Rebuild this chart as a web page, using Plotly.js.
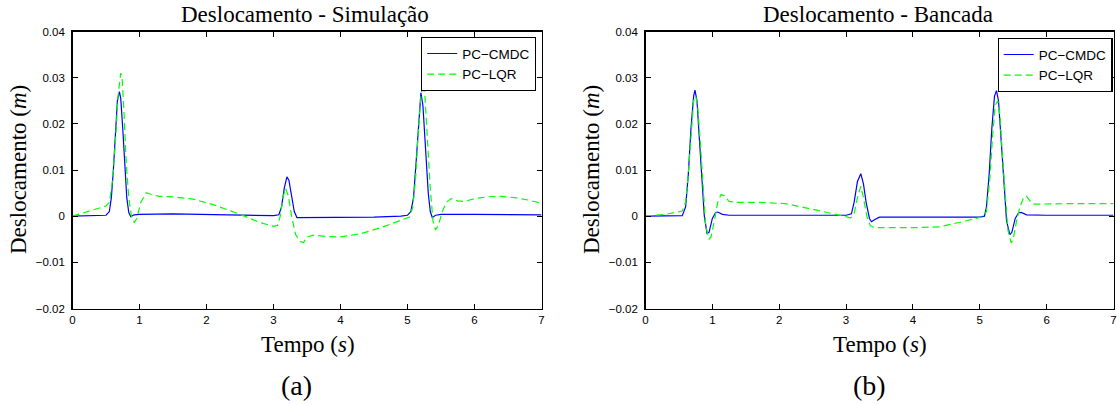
<!DOCTYPE html>
<html>
<head>
<meta charset="utf-8">
<script src="https://cdn.plot.ly/plotly-3.0.1.min.js"></script>
<style>html,body{margin:0;padding:0;background:#fff;}#chart{width:1117px;height:405px;}</style>
</head>
<body>
<div id="chart"></div>
<script>
// ---- Data ----
const seriesNames = ["PC\u2212CMDC", "PC\u2212LQR"];
const xTickVals = [0,1,2,3,4,5,6,7];
const xTickText = ["0","1","2","3","4","5","6","7"];
const yTickVals = [0.04,0.03,0.02,0.01,0,-0.01,-0.02];
const yTickText = ["0.04","0.03","0.02","0.01","0","\u22120.01","\u22120.02"];

// (a) Simulação – PC-CMDC
const simCmdcT = [0,0.5,0.55,0.58,0.61,0.64,0.67,0.70,0.72,0.75,0.78,0.81,0.84,0.87,0.92,1.0,1.5,2.0,2.5,3.0,3.08,3.12,3.16,3.2,3.23,3.27,3.31,3.35,3.5,4.0,4.5,4.9,5.0,5.05,5.09,5.13,5.17,5.2,5.23,5.27,5.31,5.34,5.37,5.42,5.5,6.0,6.5,7.0];
const simCmdcY = [0,0.0002,0.001,0.004,0.010,0.018,0.025,0.027,0.0255,0.019,0.010,0.004,0.0008,-0.0001,0.0003,0.0004,0.0005,0.0004,0.0003,0.0001,0.0003,0.002,0.006,0.0085,0.0078,0.004,0.001,-0.0003,-0.0003,-0.0003,-0.0002,0.0,0.0002,0.001,0.004,0.012,0.022,0.0267,0.024,0.014,0.005,0.001,-0.0003,0.0002,0.0004,0.0004,0.0004,0.0003];
// (a) Simulação – PC-LQR
const simLqrT = [0,0.5,0.55,0.6,0.64,0.68,0.72,0.74,0.77,0.80,0.84,0.88,0.92,0.96,1.02,1.1,1.2,1.3,1.5,1.8,2.1,2.5,2.8,3.0,3.06,3.1,3.14,3.18,3.22,3.27,3.33,3.4,3.45,3.5,3.6,3.8,4.0,4.3,4.6,4.9,5.03,5.08,5.12,5.16,5.2,5.23,5.26,5.3,5.34,5.38,5.42,5.46,5.52,5.58,5.65,5.75,5.85,6.0,6.2,6.4,6.6,6.8,7.0];
const simLqrY = [0,0.0022,0.003,0.008,0.016,0.026,0.031,0.030,0.022,0.012,0.004,0.0,-0.0014,-0.0005,0.003,0.0051,0.0046,0.0043,0.0042,0.0037,0.0025,0.0004,-0.0014,-0.0022,-0.002,0.0,0.004,0.006,0.0045,0.0,-0.004,-0.0055,-0.0057,-0.0045,-0.0041,-0.0044,-0.0045,-0.0038,-0.0025,-0.001,-0.0002,0.002,0.008,0.018,0.026,0.0288,0.026,0.016,0.006,-0.001,-0.003,-0.002,0.001,0.003,0.0038,0.0033,0.0032,0.0038,0.0042,0.0043,0.004,0.0035,0.0028];

// (b) Bancada – PC-CMDC
const banCmdcT = [0,0.55,0.6,0.64,0.68,0.72,0.74,0.77,0.8,0.84,0.88,0.92,0.95,1.0,1.05,1.08,1.15,1.25,2.0,3.0,3.08,3.12,3.17,3.22,3.26,3.3,3.35,3.38,3.43,3.5,4.0,5.0,5.07,5.1,5.14,5.18,5.22,5.25,5.28,5.32,5.36,5.4,5.45,5.48,5.53,5.58,5.62,5.7,6.0,7.0];
const banCmdcY = [0,0.0001,0.002,0.009,0.019,0.026,0.0273,0.025,0.018,0.008,0.0,-0.0037,-0.0035,-0.0005,0.0008,0.0009,0.0004,0.0002,0.0002,0.0002,0.0005,0.003,0.0075,0.0092,0.007,0.003,-0.0005,-0.0012,-0.0007,-0.0002,-0.0002,-0.0002,0.0,0.002,0.009,0.019,0.026,0.0272,0.025,0.017,0.007,-0.001,-0.004,-0.0035,-0.0005,0.0007,0.0008,0.0003,0.0002,0.0002];
// (b) Bancada – PC-LQR
const banLqrT = [0,0.3,0.55,0.6,0.64,0.68,0.72,0.75,0.78,0.82,0.86,0.9,0.95,0.98,1.03,1.08,1.13,1.18,1.25,1.35,1.7,2.1,2.5,2.8,3.0,3.07,3.12,3.17,3.22,3.26,3.31,3.36,3.42,4.0,4.4,4.8,5.05,5.1,5.15,5.19,5.23,5.27,5.3,5.34,5.38,5.42,5.47,5.5,5.55,5.6,5.66,5.7,5.75,5.8,6.3,7.0];
const banLqrY = [0,0.0004,0.0011,0.003,0.009,0.018,0.025,0.026,0.024,0.016,0.006,-0.002,-0.005,-0.0045,-0.001,0.003,0.0047,0.0044,0.0032,0.003,0.003,0.0027,0.0015,0.0006,-0.0001,-0.0004,0.0005,0.004,0.0065,0.004,0.0,-0.002,-0.0025,-0.0025,-0.0023,-0.001,-0.0001,0.001,0.008,0.017,0.024,0.025,0.022,0.013,0.004,-0.003,-0.0058,-0.005,-0.001,0.002,0.0042,0.0043,0.0033,0.0026,0.0027,0.0027];

// ---- Styling ----
const W = 1117, H = 405;
const serif = "Liberation Serif, Times New Roman, serif";
const sans = "Liberation Sans, Arial, Helvetica, sans-serif";
const blue = "#0000ff", green = "#00ff00";

function px(x){ return x / W; }
function py(y){ return 1 - y / H; }

const yTop = 31.5, yBot = 308.5;
const dA = [px(72.5), px(541.5)];
const dB = [px(645.5), px(1113.5)];

function xAxis(domain, anchor){
  return {domain: domain, anchor: anchor, range:[0,7], tickvals:xTickVals, ticktext:xTickText,
    ticks:"inside", ticklen:5, tickwidth:1, tickcolor:"#000", showline:true, linecolor:"#000", linewidth:1.4,
    mirror:"ticks", showgrid:false, zeroline:false, tickfont:{family:sans,size:11.5,color:"#000"},
    ticklabeloverflow:"allow", fixedrange:true};
}
function yAxis(anchor){
  return {domain:[py(yBot), py(yTop)], anchor: anchor, range:[-0.02,0.04], tickvals:yTickVals, ticktext:yTickText,
    ticks:"inside", ticklen:5, tickwidth:1, tickcolor:"#000", showline:true, linecolor:"#000", linewidth:1.4,
    mirror:"ticks", showgrid:false, zeroline:false, tickfont:{family:sans,size:11.5,color:"#000"},
    ticklabelstandoff:4, fixedrange:true};
}

const lqrDash = "7px,4px";
const traces = [
  {x:simCmdcT, y:simCmdcY, xaxis:"x", yaxis:"y", name:seriesNames[0], mode:"lines", line:{color:blue,width:1.2}, legend:"legend"},
  {x:simLqrT, y:simLqrY, xaxis:"x", yaxis:"y", name:seriesNames[1], mode:"lines", line:{color:green,width:1.2,dash:lqrDash}, legend:"legend"},
  {x:banCmdcT, y:banCmdcY, xaxis:"x2", yaxis:"y2", name:seriesNames[0], mode:"lines", line:{color:blue,width:1.2}, legend:"legend2"},
  {x:banLqrT, y:banLqrY, xaxis:"x2", yaxis:"y2", name:seriesNames[1], mode:"lines", line:{color:green,width:1.2,dash:lqrDash}, legend:"legend2"}
];

function legendAt(xr, yt){
  return {x:px(xr), y:py(yt), xanchor:"right", yanchor:"top", xref:"paper", yref:"paper",
    bgcolor:"#fff", bordercolor:"#000", borderwidth:1.2, font:{family:sans,size:13.5,color:"#000"},
    tracegroupgap:0, itemwidth:30};
}

function ann(text, x, y, size, angle, family){
  return {text:text, x:px(x), y:py(y), xref:"paper", yref:"paper", showarrow:false,
    xanchor:"center", yanchor:"middle", textangle:angle||0, font:{family:family||serif,size:size,color:"#000"}};
}

const layout = {
  width:W, height:H, margin:{l:0,r:0,t:0,b:0}, paper_bgcolor:"#fff", plot_bgcolor:"#fff",
  showlegend:true,
  xaxis: xAxis(dA, "y"), yaxis: yAxis("x"),
  xaxis2: xAxis(dB, "y2"), yaxis2: yAxis("x2"),
  legend: legendAt(536, 37),
  legend2: legendAt(1112.5, 38),
  annotations:[
    ann("Deslocamento - Simulação", 305, 15, 23),
    ann("Deslocamento - Bancada", 878, 15, 23),
    ann("Tempo (<i>s</i>)", 308, 344, 23),
    ann("Tempo (<i>s</i>)", 880, 344, 23),
    ann("Deslocamento (<i>m</i>)", 18, 170, 23, -90),
    ann("Deslocamento (<i>m</i>)", 591, 170, 23, -90),
    ann("(a)", 296, 385, 28),
    ann("(b)", 869, 385, 28)
  ]
};

Plotly.newPlot("chart", traces, layout, {staticPlot:true, displayModeBar:false});
</script>
</body>
</html>
